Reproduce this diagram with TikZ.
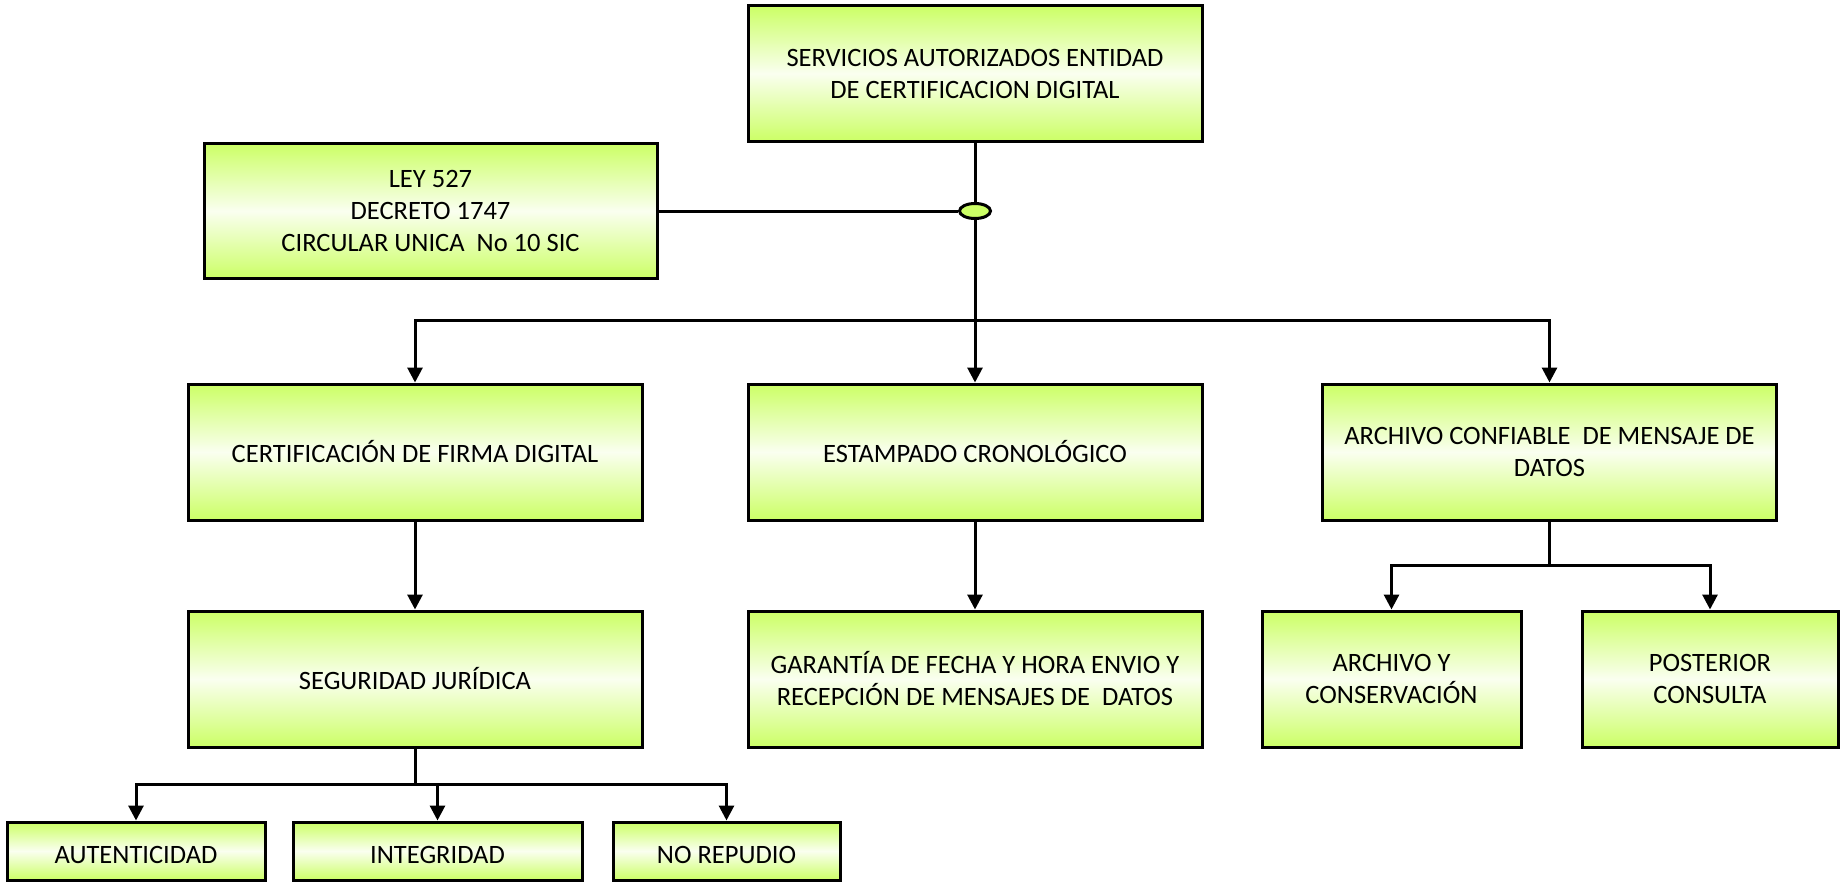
\documentclass[tikz,border=0pt]{standalone}
\usepackage{fontspec}
\setmainfont{Carlito}
\usetikzlibrary{arrows.meta,shapes.geometric}
\definecolor{lg}{HTML}{CCFF66}
\tikzset{
  gbox/.style={draw=black, line width=3pt, top color=lg, bottom color=lg, middle color=lg!10,
    minimum height=136pt, inner sep=0pt, align=center, font=\fontsize{26.5}{32}\selectfont},
  conn/.style={line width=3pt},
  arr/.style={line width=3pt, -{Triangle[width=15pt,length=15pt]}},
}
\newcommand{\lowtxt}[1]{\raisebox{-12pt}[0pt][0pt]{#1}}
\begin{document}
\begin{tikzpicture}[x=1pt,y=-1pt]
\useasboundingbox (0,0) rectangle (1847,883);
\node[gbox, minimum width=454pt, minimum height=135pt] (top) at (975,73.5) {SERVICIOS AUTORIZADOS ENTIDAD\\DE CERTIFICACION DIGITAL};
\node[gbox, minimum width=453pt, minimum height=135pt] (ley) at (430.5,211) {LEY 527\\DECRETO 1747\\CIRCULAR UNICA\ \ No 10 SIC};
\node[ellipse, draw=black, line width=3pt, fill=lg, minimum width=31pt, minimum height=15pt, inner sep=0pt] (ell) at (975,211) {};
\node[gbox, minimum width=454pt] (b1) at (415,452) {CERTIFICACIÓN DE FIRMA DIGITAL};
\node[gbox, minimum width=454pt] (b2) at (975,452) {ESTAMPADO CRONOLÓGICO};
\node[gbox, minimum width=454pt] (b3) at (1549.5,452) {ARCHIVO CONFIABLE\ \ DE MENSAJE DE\\DATOS};
\node[gbox, minimum width=454pt] (s1) at (415,679) {SEGURIDAD JURÍDICA};
\node[gbox, minimum width=454pt] (s2) at (975,679) {GARANTÍA DE FECHA Y HORA ENVIO Y\\RECEPCIÓN DE MENSAJES DE\ \ DATOS};
\node[gbox, minimum width=259pt] (arch) at (1391.5,679) {ARCHIVO Y\\CONSERVACIÓN};
\node[gbox, minimum width=256pt] (post) at (1710,679) {POSTERIOR\\CONSULTA};
\node[gbox, minimum width=258pt, minimum height=58pt] (aut) at (136,851) {\lowtxt{AUTENTICIDAD}};
\node[gbox, minimum width=289pt, minimum height=58pt] (int) at (437.5,851) {\lowtxt{INTEGRIDAD}};
\node[gbox, minimum width=227pt, minimum height=58pt] (nor) at (726.5,851) {\lowtxt{NO REPUDIO}};
\coordinate (j1) at (975,320);
\coordinate (j3) at (1549.5,565);
\coordinate (j4) at (415,784);
\draw[conn] (top.south) -- (ell.north);
\draw[conn] (ley.east) -- (ell.west);
\draw[arr] (ell.south) -- (b2.north);
\draw[arr] (j1) -| (b1.north);
\draw[arr] (j1) -| (b3.north);
\draw[arr] (b1.south) -- (s1.north);
\draw[arr] (b2.south) -- (s2.north);
\draw[conn] (b3.south) -- (j3);
\draw[arr] (j3) -| (arch.north);
\draw[arr] (j3) -| (post.north);
\draw[conn] (s1.south) -- (j4);
\draw[arr] (j4) -| (aut.north);
\draw[arr] (j4) -| (int.north);
\draw[arr] (j4) -| (nor.north);
\end{tikzpicture}
\end{document}
